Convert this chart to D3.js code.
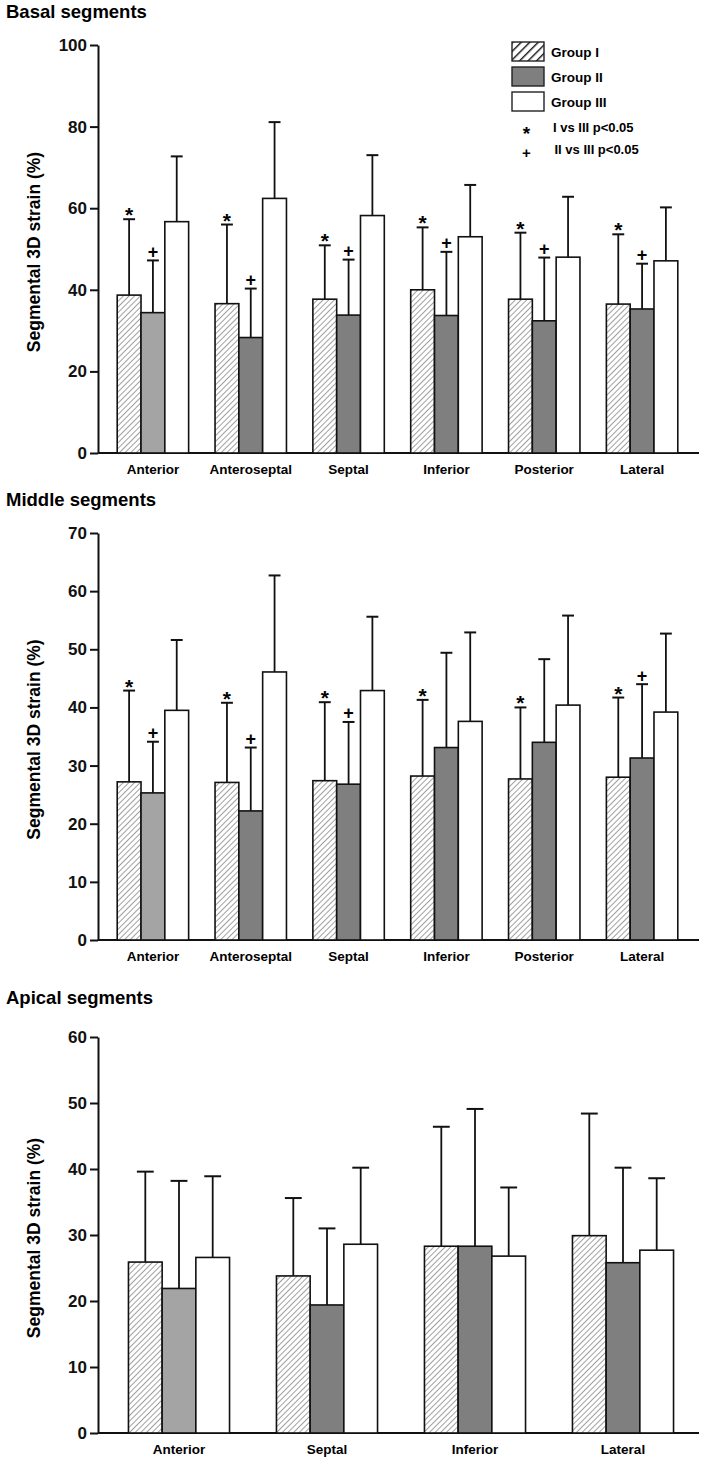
<!DOCTYPE html>
<html>
<head>
<meta charset="utf-8">
<script src="https://cdn.jsdelivr.net/npm/d3@7"></script>
<style>
  body { margin: 0; background: #fff; }
  svg { display: block; font-family: Arial, "Liberation Sans", Helvetica, sans-serif; font-weight: bold; }
</style>
</head>
<body>
<svg id="chart" width="705" height="1469"></svg>
<script>
var groups = ["Group I", "Group II", "Group III"];

// basal segments
var basalCats = ["Anterior", "Anteroseptal", "Septal", "Inferior", "Posterior", "Lateral"];
var basalMeanI   = [38.7, 36.6, 37.7, 40.0, 37.7, 36.5];
var basalSdI     = [18.6, 19.4, 13.2, 15.3, 16.3, 17.1];
var basalMeanII  = [34.4, 28.3, 33.8, 33.7, 32.4, 35.3];
var basalSdII    = [12.8, 12.0, 13.6, 15.6, 15.5, 11.1];
var basalMeanIII = [56.7, 62.4, 58.2, 53.0, 48.0, 47.1];
var basalSdIII   = [16.0, 18.7, 14.8, 12.7, 14.8, 13.1];
var basalStar = [1, 1, 1, 1, 1, 1];   // I vs III
var basalPlus = [1, 1, 1, 1, 1, 1];   // II vs III
var basalTicks = [0, 20, 40, 60, 80, 100];

// middle segments
var middleCats = ["Anterior", "Anteroseptal", "Septal", "Inferior", "Posterior", "Lateral"];
var middleMeanI   = [27.2, 27.1, 27.4, 28.2, 27.7, 28.0];
var middleSdI     = [15.7, 13.7, 13.5, 13.1, 12.3, 13.7];
var middleMeanII  = [25.3, 22.2, 26.8, 33.1, 34.0, 31.3];
var middleSdII    = [8.8, 10.9, 10.7, 16.3, 14.3, 12.7];
var middleMeanIII = [39.5, 46.1, 42.9, 37.6, 40.4, 39.2];
var middleSdIII   = [12.1, 16.6, 12.7, 15.3, 15.4, 13.5];
var middleStar = [1, 1, 1, 1, 1, 1];
var middlePlus = [1, 1, 1, 0, 0, 1];
var middleTicks = [0, 10, 20, 30, 40, 50, 60, 70];

// apical segments
var apicalCats = ["Anterior", "Septal", "Inferior", "Lateral"];
var apicalMeanI   = [25.9, 23.8, 28.3, 29.9];
var apicalSdI     = [13.7, 11.8, 18.1, 18.5];
var apicalMeanII  = [21.9, 19.4, 28.3, 25.8];
var apicalSdII    = [16.3, 11.6, 20.8, 14.4];
var apicalMeanIII = [26.6, 28.6, 26.8, 27.7];
var apicalSdIII   = [12.3, 11.6, 10.4, 10.9];
var apicalStar = [0, 0, 0, 0];
var apicalPlus = [0, 0, 0, 0];
var apicalTicks = [0, 10, 20, 30, 40, 50, 60];

var legendNotes = [["*", "I vs III p<0.05"], ["+", "II vs III p<0.05"]];

var panels = [
  {title: "Basal segments", cats: basalCats, means: [basalMeanI, basalMeanII, basalMeanIII],
   sds: [basalSdI, basalSdII, basalSdIII], star: basalStar, plus: basalPlus, ticks: basalTicks,
   titleY: 18, top: 45, bottom: 453, xr: [104, 691], pad: 0.27, legend: true},
  {title: "Middle segments", cats: middleCats, means: [middleMeanI, middleMeanII, middleMeanIII],
   sds: [middleSdI, middleSdII, middleSdIII], star: middleStar, plus: middlePlus, ticks: middleTicks,
   titleY: 506, top: 533, bottom: 940, xr: [104, 691], pad: 0.27},
  {title: "Apical segments", cats: apicalCats, means: [apicalMeanI, apicalMeanII, apicalMeanIII],
   sds: [apicalSdI, apicalSdII, apicalSdIII], star: apicalStar, plus: apicalPlus, ticks: apicalTicks,
   titleY: 1004, top: 1037, bottom: 1433, xr: [105, 697], pad: 0.317}
];

var svg = d3.select("#chart");
var axisX = 98, axisEnd = 699;

// hatch patterns: fine one for the bars, coarse one for the legend key
var defs = svg.append("defs");
function hatch(id, size, width) {
  defs.append("pattern")
    .attr("id", id)
    .attr("patternUnits", "userSpaceOnUse")
    .attr("width", size).attr("height", size)
    .attr("patternTransform", "rotate(45)")
    .call(function(p) {
      p.append("rect").attr("width", size).attr("height", size).attr("fill", "#fff");
      p.append("line").attr("x1", 0).attr("y1", 0).attr("x2", 0).attr("y2", size)
        .attr("stroke", "#111").attr("stroke-width", width);
    });
}
hatch("hatch", 4, 0.8);
hatch("hatchBold", 6, 2.8);

function fillFor(g, i) {
  if (g == 0) return "url(#hatch)";
  if (g == 1) return i == 0 ? "#a4a4a4" : "#7f7f7f";
  return "#fff";
}

panels.forEach(function(p) {
  var maxV = d3.max(p.ticks);
  var y = d3.scaleLinear().domain([0, maxV]).range([p.bottom, p.top]);
  var x0 = d3.scaleBand().domain(p.cats).range(p.xr).paddingInner(p.pad).paddingOuter(p.pad / 2);
  var x1 = d3.scaleBand().domain(groups).range([0, x0.bandwidth()]);
  var bw = x1.bandwidth();

  var g = svg.append("g");

  g.append("text")
    .attr("x", 6).attr("y", p.titleY)
    .attr("font-size", 18.5)
    .text(p.title);

  // y axis
  var yAxis = d3.axisLeft(y).tickValues(p.ticks).tickSize(8).tickPadding(3).tickSizeOuter(0);
  var ya = g.append("g").attr("transform", "translate(" + axisX + ",0)").call(yAxis);
  ya.attr("font-family", null).attr("font-size", null);
  ya.select(".domain").attr("stroke", "#111").attr("stroke-width", 2);
  ya.selectAll(".tick line").attr("stroke", "#111").attr("stroke-width", 2);
  ya.selectAll(".tick text").attr("fill", "#111").attr("font-size", 17);

  // x axis line
  g.append("line")
    .attr("x1", axisX).attr("x2", axisEnd)
    .attr("y1", y(0)).attr("y2", y(0))
    .attr("stroke", "#111").attr("stroke-width", 2);

  g.append("text")
    .attr("transform", "translate(40," + ((p.top + p.bottom) / 2 + 3) + ") rotate(-90)")
    .attr("text-anchor", "middle")
    .attr("font-size", 17.5)
    .text("Segmental 3D strain (%)");

  // category labels
  g.selectAll(".cat").data(p.cats).enter().append("text")
    .attr("x", function(d) { return x0(d) + x0.bandwidth() / 2; })
    .attr("y", y(0) + 21)
    .attr("text-anchor", "middle")
    .attr("font-size", 13.5)
    .text(function(d) { return d; });

  var rows = [];
  p.cats.forEach(function(c, i) {
    groups.forEach(function(gr, k) {
      rows.push({cat: c, i: i, g: k, grp: gr, mean: p.means[k][i], sd: p.sds[k][i]});
    });
  });

  // error bars (drawn first so the bar covers the stem)
  rows.forEach(function(d) {
    var cx = x0(d.cat) + x1(d.grp) + bw / 2;
    var topY = y(d.mean + d.sd);
    g.append("line").attr("x1", cx).attr("x2", cx).attr("y1", y(d.mean)).attr("y2", topY)
      .attr("stroke", "#111").attr("stroke-width", 1.8);
    g.append("line").attr("x1", cx - bw / 4).attr("x2", cx + bw / 4).attr("y1", topY).attr("y2", topY)
      .attr("stroke", "#111").attr("stroke-width", 2);

    if (d.g == 0 && p.star[d.i]) {
      g.append("text").attr("x", cx).attr("y", topY + 3).attr("text-anchor", "middle")
        .attr("font-size", 21).text("*");
    }
    if (d.g == 1 && p.plus[d.i]) {
      g.append("text").attr("x", cx).attr("y", topY - 2.5).attr("text-anchor", "middle")
        .attr("font-size", 18).text("+");
    }
  });

  g.selectAll(".bar").data(rows).enter().append("rect")
    .attr("x", function(d) { return x0(d.cat) + x1(d.grp); })
    .attr("y", function(d) { return y(d.mean); })
    .attr("width", bw)
    .attr("height", function(d) { return y(0) - y(d.mean); })
    .attr("fill", function(d) { return fillFor(d.g, d.i); })
    .attr("stroke", "#111")
    .attr("stroke-width", 1.6);

  if (p.legend) {
    var lg = g.append("g").attr("transform", "translate(512,42)");
    groups.forEach(function(gr, k) {
      lg.append("rect").attr("x", 0).attr("y", k * 25).attr("width", 32).attr("height", 19)
        .attr("fill", k == 0 ? "url(#hatchBold)" : fillFor(k, 1))
        .attr("stroke", "#222").attr("stroke-width", 1.4);
      lg.append("text").attr("x", 39).attr("y", k * 25 + 14.5).attr("font-size", 13.5).text(gr);
    });
    legendNotes.forEach(function(n, k) {
      lg.append("text").attr("x", 14.5).attr("y", k == 0 ? 98 : 116)
        .attr("text-anchor", "middle").attr("font-size", k == 0 ? 19 : 15).text(n[0]);
      lg.append("text").attr("x", 41 + k * 1.5).attr("y", 90 + k * 22).attr("font-size", 13).text(n[1]);
    });
  }
});
</script>
</body>
</html>
